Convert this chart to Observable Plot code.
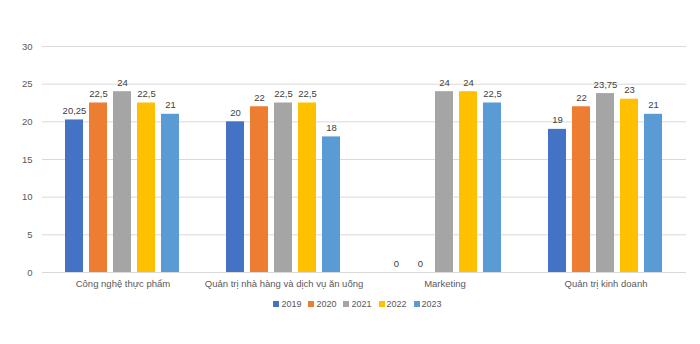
<!DOCTYPE html>
<html><head><meta charset="utf-8">
<script src="https://cdn.jsdelivr.net/npm/d3@7"></script>
<script src="https://cdn.jsdelivr.net/npm/@observablehq/plot@0.6"></script>
<style>
body{margin:0;background:#fff;font-family:"Liberation Sans",sans-serif}
#legend{display:flex;justify-content:center;align-items:center;height:16px;font-size:9px;color:#595959;gap:7px;padding-left:15px}
#legend span.sw{display:inline-block;width:6px;height:6px;margin-right:2px;vertical-align:middle;position:relative;top:-1px}
</style>
</head><body><div id="chart"></div><div id="legend"></div>
<script>
const categories = ["Công nghệ thực phẩm","Quản trị nhà hàng và dịch vụ ăn uống","Marketing","Quản trị kinh doanh"];
const years = ["2019","2020","2021","2022","2023"];
const colors = ["#4472C4","#ED7D31","#A5A5A5","#FFC000","#5B9BD5"];
const v2019 = [20.25, 20, 0, 19];
const v2020 = [22.5, 22, 0, 22];
const v2021 = [24, 22.5, 24, 23.75];
const v2022 = [22.5, 22.5, 24, 23];
const v2023 = [21, 18, 22.5, 21];
const yTicks = [0,5,10,15,20,25,30];

const series = [v2019, v2020, v2021, v2022, v2023];
const data = [];
categories.forEach((c, i) => years.forEach((y, j) => data.push({cat: c, year: y, value: series[j][i]})));
const fmt = v => String(v).replace(".", ",");

const chart = Plot.plot({
  width: 700, height: 296,
  marginTop: 46, marginBottom: 24, marginLeft: 40, marginRight: 13,
  style: {fontFamily: "Liberation Sans, sans-serif", fontSize: "9.5px", color: "#595959", background: "#fff"},
  fx: {domain: categories, padding: 0, label: null, axis: "bottom", tickSize: 0, tickPadding: 8},
  x: {domain: years, paddingInner: 0.23, paddingOuter: 0.84, axis: null},
  y: {domain: [0, 30], ticks: yTicks, label: null, tickSize: 0, tickPadding: 10},
  color: {domain: years, range: colors},
  marks: [
    Plot.ruleY(yTicks, {stroke: "#d9d9d9", strokeWidth: 1}),
    Plot.barY(data, {fx: "cat", x: "year", y: "value", fill: "year"}),
    Plot.text(data, {fx: "cat", x: "year", y: "value", text: d => fmt(d.value), dy: -9, fill: "#404040", fontSize: 9.5})
  ]
});
document.getElementById("chart").appendChild(chart);

const lg = document.getElementById("legend");
years.forEach((y, j) => {
  const item = document.createElement("span");
  item.innerHTML = `<span class="sw" style="background:${colors[j]}"></span>${y}`;
  lg.appendChild(item);
});
</script>
</body></html>
